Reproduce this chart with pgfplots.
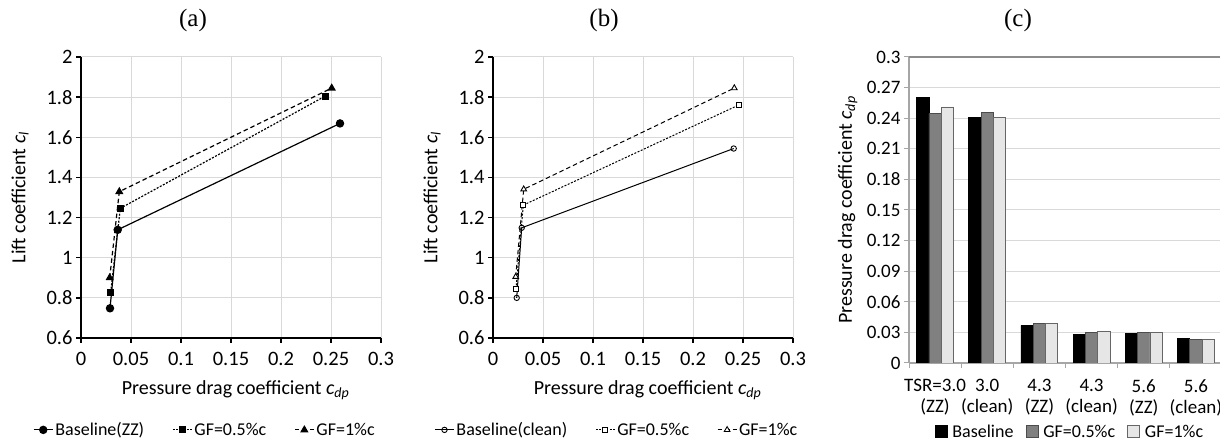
\documentclass[border=0pt]{standalone}
\usepackage{fontspec}
\setmainfont{Carlito}
\newfontfamily\serif{Liberation Serif}
\usepackage{pgfplots}
\pgfplotsset{compat=1.18}
\definecolor{gridc}{HTML}{D9D9D9}
\definecolor{axc}{HTML}{A6A6A6}
\definecolor{topc}{HTML}{8C8C8C}
\definecolor{midgray}{HTML}{808080}
\definecolor{lightbar}{HTML}{E6E6E6}
\newcommand{\tck}{\fontsize{20.5}{23}\selectfont}
\newcommand{\tckc}{\fontsize{19}{21}\selectfont}
\newcommand{\lbl}{\fontsize{20}{23}\selectfont}
\newcommand{\lgd}{\fontsize{18}{21}\selectfont}
\pgfplotsset{
  lineplot/.style={
    scale only axis, width=300pt, height=281pt,
    xmin=0,xmax=0.3,ymin=0.6,ymax=2,
    xtick={0,0.05,0.1,0.15,0.2,0.25,0.3},
    xticklabels={0,0.05,0.1,0.15,0.2,0.25,0.3},
    ytick={0.6,0.8,1,1.2,1.4,1.6,1.8,2},
    yticklabels={0.6,0.8,1,1.2,1.4,1.6,1.8,2},
    axis x line=bottom, axis y line=left,
    axis line style={-, line width=1.3pt, black},
    grid=major, grid style={gridc, line width=1pt},
    tick style={black, line width=1.3pt},
    tick align=outside, major tick length=5pt,
    ticklabel style={font=\tck},
    xticklabel style={yshift=-6pt},
    every axis x label/.style={at={(axis description cs:0.515,-0.185)},anchor=center,font=\lbl},
    every axis y label/.style={at={(axis description cs:-0.203,0.5)},rotate=90,anchor=center,font=\lbl},
    xlabel={Pressure drag coefficient \textit{c}\textsubscript{\textit{dp}}},
    ylabel={Lift coefficient \textit{c}\textsubscript{\textit{l}}},
    legend columns=3,
    legend style={draw=none, font=\lgd, anchor=center, inner sep=0pt,
      /tikz/every even column/.append style={column sep=26pt}},
    legend image code/.code={\draw[mark repeat=2,mark phase=2,#1] plot coordinates {(0pt,0pt) (9.5pt,0pt) (19pt,0pt)};},
  },
  base/.style={black, line width=1.2pt, solid},
  gfa/.style={black, line width=1.2pt, dash pattern=on 2pt off 1.5pt},
  gfb/.style={black, line width=1.2pt, dash pattern=on 4.5pt off 3pt},
}
\begin{document}
\begin{tikzpicture}
\useasboundingbox (0pt,0pt) rectangle (1220pt,443pt);
\node[font=\serif\fontsize{25}{29}\selectfont] at (193pt,423pt) {(a)};
\node[font=\serif\fontsize{25}{29}\selectfont] at (604pt,423pt) {(b)};
\node[font=\serif\fontsize{25}{29}\selectfont] at (1018pt,423pt) {(c)};

% (a)
\begin{axis}[lineplot, anchor=south west, at={(81pt,105pt)},
  legend style={at={(0.413,-0.327)}}]
\addplot[base, mark=*, mark size=3.6pt, mark options={solid}] coordinates {(0.029,0.748) (0.0367,1.139) (0.259,1.669)};
\addlegendentry{Baseline(ZZ)}
\addplot[gfa, mark=square*, mark size=2.8pt, mark options={solid}] coordinates {(0.0297,0.828) (0.0393,1.246) (0.2443,1.805)};
\addlegendentry{GF=0.5\%c}
\addplot[gfb, mark=triangle*, mark size=3.6pt, mark options={solid}] coordinates {(0.0287,0.900) (0.0383,1.329) (0.2507,1.845)};
\addlegendentry{GF=1\%c}
\end{axis}

% (b)
\begin{axis}[lineplot, anchor=south west, at={(493pt,105pt)},
  legend style={at={(0.413,-0.327)}}]
\addplot[base, line width=1pt, mark=o, mark size=2.7pt, mark options={solid, fill=white, line width=0.9pt}] coordinates {(0.0237,0.80) (0.0287,1.149) (0.2407,1.544)};
\addlegendentry{Baseline(clean)}
\addplot[gfa, line width=1pt, mark=square*, mark size=2.5pt, mark options={solid, fill=white, line width=0.9pt}] coordinates {(0.023,0.845) (0.0303,1.262) (0.2463,1.762)};
\addlegendentry{GF=0.5\%c}
\addplot[gfb, line width=1pt, mark=triangle*, mark size=3.3pt, mark options={solid, fill=white, line width=0.9pt}] coordinates {(0.0227,0.905) (0.0307,1.341) (0.2413,1.845)};
\addlegendentry{GF=1\%c}
\end{axis}

% (c)
\begin{axis}[anchor=south west, at={(909pt,80pt)}, scale only axis, width=313pt, height=306pt,
  ybar=0pt, bar width=12.3pt,
  xmin=-0.5, xmax=5.5, ymin=0, ymax=0.3,
  ytick={0,0.03,0.06,0.09,0.12,0.15,0.18,0.21,0.24,0.27,0.3},
  yticklabels={0,0.03,0.06,0.09,0.12,0.15,0.18,0.21,0.24,0.27,0.3},
  xtick={-0.5,0.5,1.5,2.5,3.5,4.5,5.5},
  x tick label as interval,
  xticklabels={{TSR=3.0\\(ZZ)},{3.0\\(clean)},{4.3\\(ZZ)},{4.3\\(clean)},{5.6\\(ZZ)},{5.6\\(clean)}},
  xticklabel style={align=center, font=\tckc, yshift=-8pt},
  yticklabel style={font=\tckc},
  axis x line*=bottom, axis y line*=left,
  axis line style={-, axc, line width=1.1pt},
  ymajorgrids, grid style={gridc, line width=1pt},
  tick style={axc, line width=1pt}, tick align=outside, major tick length=5pt,
  every axis y label/.style={at={(axis description cs:-0.196,0.5)},rotate=90,anchor=center,font=\lbl},
  ylabel={Pressure drag coefficient \textit{c}\textsubscript{\textit{dp}}},
  legend columns=3,
  legend style={draw=none, font=\lgd, anchor=center, inner sep=0pt, at={(0.514,-0.225)},
    /tikz/every odd column/.append style={column sep=3pt},
    /tikz/every even column/.append style={column sep=10pt}},
  every axis plot post/.append style={legend image code/.code={\draw[#1, line width=0.8pt] (0pt,-6pt) rectangle (12pt,6pt);}},
]
\addplot[fill=black, draw=black, line width=0.8pt] coordinates {(0,0.260) (1,0.2405) (2,0.0369) (3,0.0284) (4,0.0294) (5,0.0238)};
\addlegendentry{Baseline}
\addplot[fill=midgray, draw=black!70, line width=0.8pt] coordinates {(0,0.2444) (1,0.246) (2,0.0388) (3,0.0300) (4,0.0300) (5,0.0232)};
\addlegendentry{GF=0.5\%c}
\addplot[fill=lightbar, draw=black!60, line width=0.8pt] coordinates {(0,0.251) (1,0.241) (2,0.0385) (3,0.0307) (4,0.0297) (5,0.0232)};
\addlegendentry{GF=1\%c}
\draw[topc, line width=1.1pt] (rel axis cs:0,1) -- (rel axis cs:1,1);
\end{axis}
\end{tikzpicture}
\end{document}
